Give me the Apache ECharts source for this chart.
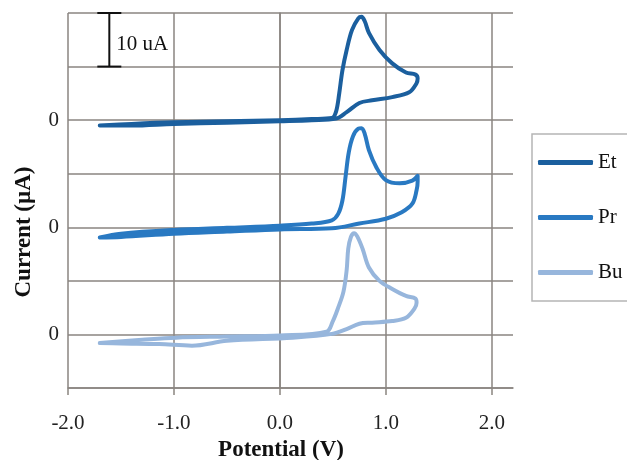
<!DOCTYPE html>
<html><head><meta charset="utf-8">
<script src="https://cdn.jsdelivr.net/npm/echarts@6/dist/echarts.min.js"></script>
<style>html,body{margin:0;padding:0;background:#fff}#c{width:627px;height:460px}</style>
</head><body><div id="c"></div>
<script>
// Offset cyclic voltammograms; each series is shifted so its zero sits on a labelled gridline
const seriesNames = ['Et', 'Pr', 'Bu'];
const zeroLevels = [50, 30, 10];
const xTicks = [-2, -1, 0, 1, 2];
const scaleBar = { x: -1.61, y0: 60, y1: 70, label: '10 uA' };

const Et = [[-1.70,49.0],[-1.4,49.3],[-1.0,49.6],[-0.5,49.8],[0.0,50.0],[0.3,50.2],[0.49,50.4],[0.53,51.6],[0.56,55.0],[0.59,59.3],[0.63,63.1],[0.68,66.8],[0.74,69.0],[0.77,69.3],[0.80,68.5],[0.84,66.3],[0.94,63.1],[1.06,60.6],[1.19,58.9],[1.28,58.5],[1.30,57.8],[1.29,56.9],[1.22,55.2],[1.06,54.3],[0.87,53.7],[0.75,53.2],[0.63,51.5],[0.53,50.3],[0.3,50.0],[0.0,49.8],[-0.5,49.5],[-1.0,49.3],[-1.4,49.0],[-1.70,49.0]];
const Pr = [[-1.70,28.1],[-1.5,28.8],[-1.0,29.5],[-0.5,29.9],[0.0,30.3],[0.3,30.7],[0.49,31.3],[0.55,32.5],[0.59,35.0],[0.62,39.5],[0.65,44.0],[0.69,47.0],[0.74,48.4],[0.77,48.5],[0.80,47.5],[0.84,44.4],[0.91,41.2],[1.00,38.8],[1.13,38.2],[1.25,38.7],[1.30,39.6],[1.30,38.5],[1.29,36.9],[1.25,34.4],[1.15,32.8],[1.00,31.6],[0.75,30.7],[0.49,29.8],[0.0,29.6],[-0.5,29.2],[-1.0,28.8],[-1.5,28.2],[-1.70,28.1]];
const Bu = [[-1.70,8.4],[-1.3,9.0],[-0.98,9.4],[-0.5,9.6],[0.0,9.8],[0.44,10.5],[0.50,12.5],[0.55,15.0],[0.60,18.0],[0.63,22.0],[0.645,26.0],[0.67,28.2],[0.70,28.9],[0.73,28.3],[0.78,26.0],[0.84,22.5],[0.94,20.0],[1.06,18.5],[1.19,17.2],[1.28,16.7],[1.29,15.9],[1.27,14.8],[1.19,13.1],[1.06,12.5],[0.87,12.2],[0.75,12.0],[0.63,11.0],[0.49,10.1],[0.12,9.4],[-0.50,8.8],[-0.83,7.9],[-1.14,8.2],[-1.50,8.3],[-1.70,8.4]];

const colors = ['#1B5F9E', '#2979C2', '#97B6DC'];
const dataSets = [Et, Pr, Bu];
const gridColor = '#8a8580';
const serif = '"Liberation Serif", "Times New Roman", serif';

const chart = echarts.init(document.getElementById('c'));
const series = seriesNames.map((n, i) => ({
  name: n, type: 'line', data: dataSets[i], smooth: 0.35, showSymbol: false,
  lineStyle: { color: colors[i], width: 4, cap: 'round', join: 'round' },
  itemStyle: { color: colors[i] }, z: 3 - i + 2
}));
series.push({
  type: 'custom', name: 'scale', silent: true, z: 10,
  data: [[scaleBar.x, scaleBar.y0, scaleBar.y1]],
  renderItem: function (params, api) {
    const top = api.coord([api.value(0), api.value(2)]);
    const bot = api.coord([api.value(0), api.value(1)]);
    const s = { stroke: '#111', lineWidth: 2 };
    return { type: 'group', children: [
      { type: 'line', shape: { x1: top[0], y1: top[1], x2: bot[0], y2: bot[1] }, style: s },
      { type: 'line', shape: { x1: top[0]-12, y1: top[1], x2: top[0]+12, y2: top[1] }, style: s },
      { type: 'line', shape: { x1: bot[0]-12, y1: bot[1], x2: bot[0]+12, y2: bot[1] }, style: s },
      { type: 'text', x: top[0] + 7, y: (top[1] + bot[1]) / 2 + 5, style: { text: scaleBar.label, fill: '#111', font: '21px ' + serif, textVerticalAlign: 'middle' } }
    ]};
  }
});

chart.setOption({
  animation: false,
  grid: { left: 68, right: 114, top: 13, bottom: 72 },
  xAxis: {
    type: 'value', min: -2, max: 2.2, interval: 1,
    axisLine: { show: true, lineStyle: { color: gridColor, width: 1.5 } },
    axisTick: { show: true, length: 7, customValues: xTicks, lineStyle: { color: gridColor, width: 1.5 } },
    splitLine: { show: true, lineStyle: { color: gridColor, width: 1.5 } },
    axisLabel: { margin: 25, color: '#222', fontFamily: serif, fontSize: 21, customValues: xTicks,
      formatter: v => v.toFixed(1) }
  },
  yAxis: {
    type: 'value', min: 0, max: 70, interval: 10,
    axisLine: { show: true, lineStyle: { color: gridColor, width: 1.5 } },
    axisTick: { show: false },
    splitLine: { show: true, lineStyle: { color: gridColor, width: 1.5 } },
    axisLabel: { margin: 9, color: '#222', fontFamily: serif, fontSize: 21,
      formatter: v => zeroLevels.includes(v) ? '0' : '' }
  },
  legend: {
    data: seriesNames, orient: 'vertical', left: 532, top: 134,
    padding: [18, 7, 18, 6], itemGap: 34, itemWidth: 55, itemHeight: 5,
    icon: 'roundRect', borderColor: '#b5b5b5', borderWidth: 1.5,
    textStyle: { color: '#111', fontFamily: serif, fontSize: 21 }
  },
  graphic: [
    { type: 'text', x: 24, y: 232, rotation: Math.PI / 2,
      style: { text: 'Current (µA)', fill: '#111', font: 'bold 23px ' + serif, textAlign: 'center', textVerticalAlign: 'middle' } },
    { type: 'text', x: 281, y: 450,
      style: { text: 'Potential (V)', fill: '#111', font: 'bold 23px ' + serif, textAlign: 'center', textVerticalAlign: 'middle' } }
  ],
  series: series
});
</script></body></html>
